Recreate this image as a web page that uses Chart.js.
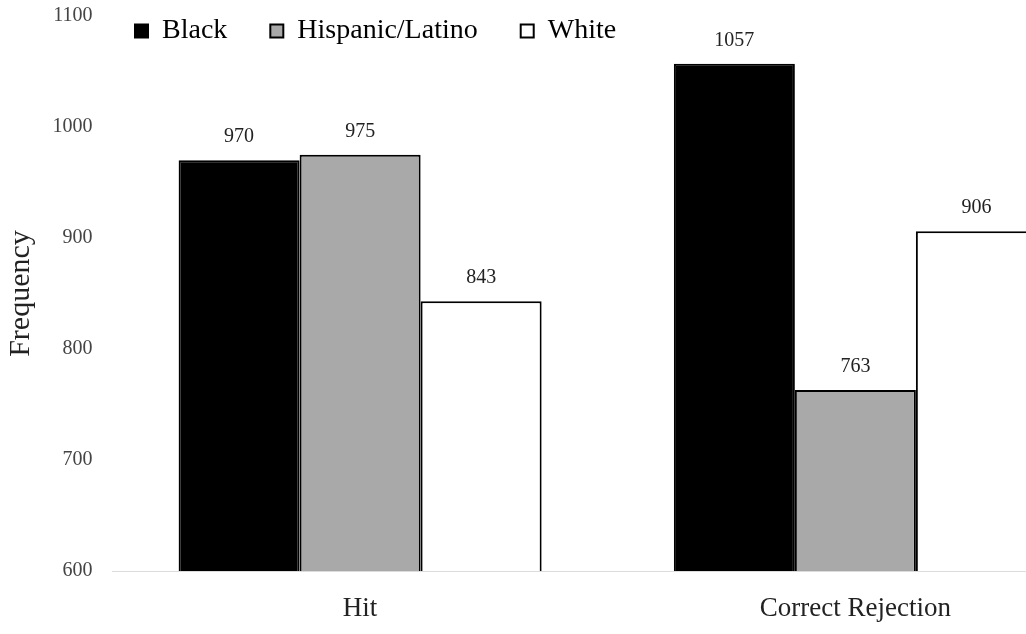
<!DOCTYPE html>
<html>
<head>
<meta charset="utf-8">
<script src="https://cdn.jsdelivr.net/npm/chart.js@4.4.1/dist/chart.umd.min.js"></script>
<style>
  html, body { margin: 0; padding: 0; background: #ffffff; overflow: hidden; width: 1026px; height: 634px; }
  canvas { display: block; }
</style>
</head>
<body>
<canvas id="c" width="1103" height="634"></canvas>
<script>
const categories = ['Hit', 'Correct Rejection'];
const seriesNames = ['Black', 'Hispanic/Latino', 'White'];
const blackValues = [970, 1057];
const hispanicValues = [975, 763];
const whiteValues = [843, 906];
const yTicks = [600, 700, 800, 900, 1000, 1100];

const FONT = '"Liberation Serif", "Times New Roman", serif';
const LEGEND_PAD = 43;

const valueLabels = {
  id: 'valueLabels',
  afterDatasetsDraw(chart) {
    const ctx = chart.ctx;
    ctx.save();
    ctx.font = '20px ' + FONT;
    ctx.fillStyle = '#222';
    ctx.textAlign = 'center';
    ctx.textBaseline = 'alphabetic';
    chart.data.datasets.forEach((ds, i) => {
      const meta = chart.getDatasetMeta(i);
      meta.data.forEach((el, j) => {
        ctx.fillText(String(ds.data[j]), el.x, el.y - 18);
      });
    });
    ctx.restore();
  }
};

// legend overlays the plot area (as in the original), so it takes no layout height
const legendOverlay = {
  id: 'legendOverlay',
  beforeLayout(chart) {
    const lg = chart.legend;
    if (lg && !lg._overlayWrapped) {
      const f = lg.fit;
      lg.fit = function () { f.call(this); this.height = 0; };
      lg._overlayWrapped = true;
    }
  },
  afterLayout(chart) {
    const lg = chart.legend;
    if (lg) {
      lg.left = 135 - LEGEND_PAD;
      lg.top = 17 - LEGEND_PAD;
      lg.bottom = lg.top + 140;
      lg.height = 140;
    }
  }
};

new Chart(document.getElementById('c'), {
  type: 'bar',
  data: {
    labels: categories,
    datasets: [
      { label: seriesNames[0], data: blackValues, backgroundColor: '#000000', borderColor: '#000000', borderWidth: 2 },
      { label: seriesNames[1], data: hispanicValues, backgroundColor: '#a9a9a9', borderColor: '#000000', borderWidth: 2 },
      { label: seriesNames[2], data: whiteValues, backgroundColor: '#ffffff', borderColor: '#000000', borderWidth: 2 }
    ]
  },
  options: {
    responsive: false,
    animation: false,
    datasets: { bar: { categoryPercentage: 0.733, barPercentage: 1.0 } },
    layout: { padding: { left: 3, right: 0, top: 16, bottom: 9 } },
    plugins: {
      legend: {
        position: 'top',
        align: 'start',
        labels: {
          font: { family: FONT, size: 28 },
          color: '#000',
          boxWidth: 13,
          boxHeight: 13,
          padding: LEGEND_PAD
        }
      },
      tooltip: { enabled: false }
    },
    scales: {
      x: {
        afterFit(scale) { scale.height = 54; },
        grid: { display: false, drawTicks: false },
        border: { display: true, color: '#dcdcdc', width: 1 },
        ticks: { font: { family: FONT, size: 27 }, color: '#222', padding: 22 }
      },
      y: {
        min: yTicks[0],
        max: yTicks[yTicks.length - 1],
        afterFit(scale) { scale.width = 109.5; scale.paddingTop = 12; scale.paddingBottom = 12; },
        afterBuildTicks(scale) { scale.ticks = yTicks.map(v => ({ value: v })); },
        grid: { display: false, drawTicks: false },
        border: { display: false },
        ticks: { font: { family: FONT, size: 20 }, color: '#444', padding: 20, callback: (v) => String(v) },
        title: { display: true, text: 'Frequency', font: { family: FONT, size: 30 }, color: '#222', padding: { top: 0, bottom: 0 } }
      }
    }
  },
  plugins: [valueLabels, legendOverlay]
});
</script>
</body>
</html>
